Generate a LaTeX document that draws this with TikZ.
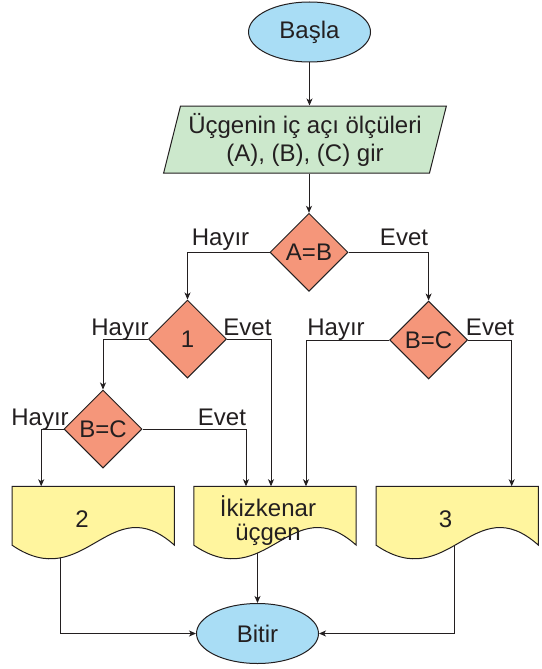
\documentclass[tikz,border=0pt]{standalone}
\usepackage{fontspec}
\setmainfont{Liberation Sans}
\usetikzlibrary{shapes.geometric,arrows.meta,calc}
\pgfdeclarelayer{bg}
\pgfdeclarelayer{lines}
\pgfdeclarelayer{docs}
\pgfsetlayers{bg,lines,docs,main}
\definecolor{ellblue}{RGB}{169,221,245}
\definecolor{paragreen}{RGB}{204,232,204}
\definecolor{diasalmon}{RGB}{245,150,122}
\definecolor{docyellow}{RGB}{255,245,158}
\definecolor{ink}{RGB}{35,31,32}
\newcommand\docshape[1]{\draw[docline] (#1.north west) -- (#1.north east) -- (#1.south east)
  .. controls ($(#1.south west)!0.6!(#1.south east)+(0,-58)$) and ($(#1.south west)!0.45!(#1.south east)+(0,50)$) .. (#1.south west) -- cycle;}
\begin{document}
\begin{tikzpicture}[x=1pt,y=-1pt,
  every node/.style={font=\fontsize{24}{28}\selectfont, text=ink},
  term/.style={ellipse, draw=ink, line width=1pt, fill=ellblue, minimum width=122, minimum height=60, inner sep=0pt},
  iobox/.style={trapezium, trapezium left angle=73.4, trapezium right angle=106.6, trapezium stretches=true,
     minimum width=283, minimum height=67, draw=ink, line width=1pt, fill=paragreen, align=center, inner sep=0pt},
  decision/.style={diamond, draw=ink, line width=1pt, fill=diasalmon, minimum width=78, minimum height=78, inner sep=0pt},
  docbox/.style={rectangle, draw=none, minimum width=162, minimum height=58.5, inner sep=0pt},
  docline/.style={draw=ink, line width=1pt, fill=docyellow},
  lbl/.style={anchor=base, inner sep=0pt},
  arr/.style={draw=ink, line width=0.9pt, -{Stealth[length=7pt,width=6pt,inset=2pt]}}
]
\useasboundingbox (0,0) rectangle (541,669);
\begin{pgfonlayer}{bg}
\fill[white] (0,0) rectangle (541,669);
\end{pgfonlayer}

\node[term] (basla) at (309.5,32) {Başla};
\node[iobox] (para) at (305,139.5) {Üçgenin iç açı ölçüleri\\(A), (B), (C) gir};
\node[decision] (ab) at (309,252.3) {A=B};
\node[decision] (d1) at (187.5,339) {1};
\node[decision] (bc2) at (428.6,340) {B=C};
\node[decision] (bc1) at (103,429) {B=C};

\node[docbox] (box2) at (93.2,515.7) {};
\node[docbox] (ik) at (275,515.7) {};
\node[docbox] (box3) at (457.2,515.7) {};
\begin{pgfonlayer}{docs}
\docshape{box2}
\docshape{ik}
\docshape{box3}
\end{pgfonlayer}
\node (t2) at (82,519) {2};
\node[align=center, font=\fontsize{24}{24}\selectfont] (tik) at (268,521) {İkizkenar\\üçgen};
\node (t3) at (445.5,519) {3};

\node[term] (bitir) at (257.5,633.5) {Bitir};

\node[lbl] (h1) at (220.5,245) {Hayır};
\node[lbl] (e1) at (404,245) {Evet};
\node[lbl] (h2) at (120,335) {Hayır};
\node[lbl] (e2) at (247.5,335) {Evet};
\node[lbl] (h3) at (336,335) {Hayır};
\node[lbl] (e3) at (490,335) {Evet};
\node[lbl] (h4) at (40,425) {Hayır};
\node[lbl] (e4) at (222,425) {Evet};

\begin{pgfonlayer}{lines}
\draw[arr] (basla) -- (basla |- para.north);
\draw[arr] (ab.north |- para.south) -- (ab.north);
\draw[arr] (ab.west) -| (d1.north);
\draw[arr] (ab.east) -| (bc2.north);
\draw[arr] (d1.west) -| (bc1.north);
\draw[arr] (d1.east) -| ([xshift=-4pt]ik.north);
\draw[arr] (bc1.east) -| ([xshift=-29pt]ik.north);
\draw[arr] (bc2.west) -| ([xshift=31pt]ik.north);
\draw[arr] (bc1.west) -| ([xshift=-52pt]box2.north);
\draw[arr] (bc2.east) -| ([xshift=54.5pt]box3.north);
\draw[arr] ([xshift=-33pt]box2.south) |- (bitir.west);
\draw[arr] ([xshift=-3pt]box3.south) |- (bitir.east);
\draw[arr] (bitir.north |- ik.south) -- (bitir.north);
\end{pgfonlayer}
\end{tikzpicture}
\end{document}
